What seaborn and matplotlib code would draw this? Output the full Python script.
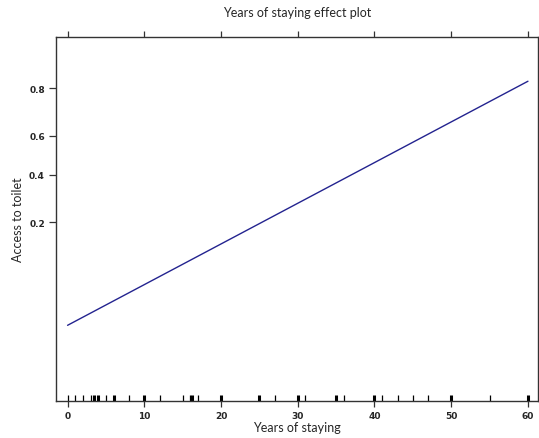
import matplotlib
matplotlib.use("Agg")
import matplotlib.pyplot as plt
import numpy as np
import pandas as pd
import seaborn as sns

# fitted effect (logit model)
years = [0, 60]
prob = [0.029, 0.822]

# observed years of staying (rug), thin and heavy marks
rug_thin = [0, 1, 2, 3, 5, 8, 12, 15, 16, 17, 27, 31, 36, 41, 43, 45, 47, 55]
rug_heavy = [3.5, 4, 6, 10, 16.2, 20, 25, 30, 35, 40, 50, 60]

y_ticks = [0.2, 0.4, 0.6, 0.8]
x_ticks = [0, 10, 20, 30, 40, 50, 60]

sns.set_style("ticks")
plt.rcParams['font.family'] = ['Lato', 'DejaVu Sans']

fig = plt.figure(figsize=(5.39, 4.39), dpi=100)
ax = fig.add_axes([0.104, 0.084, 0.894, 0.829])

df = pd.DataFrame({"years": years, "prob": prob})
sns.lineplot(data=df, x="years", y="prob", color="#23238f", linewidth=1, ax=ax)

sns.rugplot(x=rug_thin, height=0.018, color="black", linewidth=0.9, ax=ax)
sns.rugplot(x=rug_heavy, height=0.018, color="black", linewidth=2.2, ax=ax)

ax.set_yscale("logit")
ax.set_ylim(0.0062, 0.9198)
ax.set_xlim(-1.5, 61.3)
ax.set_yticks(y_ticks)
ax.set_yticklabels([f"{v:.1f}" for v in y_ticks])
ax.yaxis.set_minor_locator(matplotlib.ticker.NullLocator())
ax.set_xticks(x_ticks)
ax.set_xticklabels([str(v) for v in x_ticks])

for s in ax.spines.values():
    s.set_color("#333333")
    s.set_linewidth(1)
ax.tick_params(axis="both", which="major", direction="out", length=5, width=0.9,
               color="#333333", labelsize=6.5, pad=3)
ax.tick_params(top=True, right=True, labeltop=False, labelright=False)
ax.xaxis.set_tick_params(which="major", length=4)
for lab in ax.get_xticklabels() + ax.get_yticklabels():
    lab.set_fontweight("heavy")
    lab.set_family("DejaVu Sans")

ax.set_xlabel("Years of staying", fontsize=9, labelpad=1)
ax.set_ylabel("Access to toilet", fontsize=9, labelpad=4)
ax.set_title("Years of staying effect plot", fontsize=9, pad=15)

fig.savefig("out.png", dpi=100)
